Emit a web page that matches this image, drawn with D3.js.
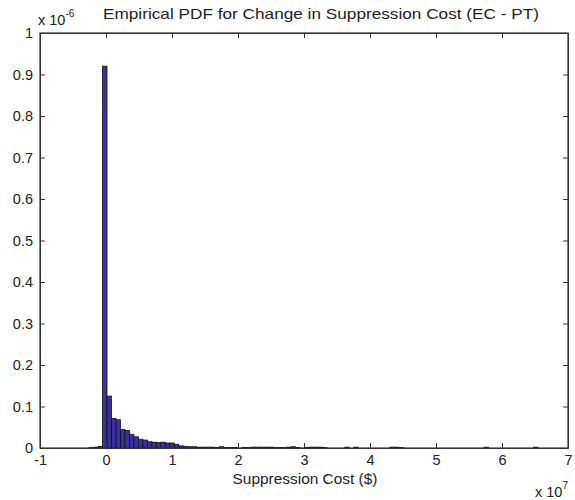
<!DOCTYPE html>
<html>
<head>
<meta charset="utf-8">
<script src="https://cdn.jsdelivr.net/npm/d3@7"></script>
<style>
  body { margin: 0; background: #fff; }
  svg text { font-family: "Liberation Sans", Arial, sans-serif; fill: #222; }
  .axis path, .axis line { stroke: #333; }
</style>
</head>
<body>
<div id="chart" style="width:575px;height:500px;"></div>
<script>
// histogram bins, x in units of 1e7 $, density in units of 1e-6
const binStart = -0.257;
const binWidth = 0.068;
const density = [
  0.001, 0.002, 0.004, 0.92, 0.125, 0.071, 0.068, 0.045, 0.042, 0.033,
  0.027, 0.021, 0.019, 0.015, 0.014, 0.013, 0.014, 0.012, 0.012, 0.009,
  0.005, 0.004, 0.003, 0.003, 0.002, 0.002, 0.002, 0.002, 0.001, 0.003,
  0.001, 0.001, 0.001, 0, 0.001, 0.001, 0.002, 0.002, 0.002, 0.002,
  0.002, 0.001, 0.001, 0.001, 0.002, 0.003, 0.001, 0, 0.001, 0.002,
  0.002, 0.002, 0.001, 0, 0, 0, 0, 0.002, 0, 0.002,
  0, 0, 0, 0, 0, 0, 0, 0.002, 0.002, 0.001,
  0, 0, 0, 0, 0, 0, 0, 0, 0, 0,
  0, 0, 0, 0, 0, 0, 0, 0, 0.002, 0,
  0, 0, 0, 0, 0, 0, 0, 0, 0, 0.002
];
const xTicks = [-1, 0, 1, 2, 3, 4, 5, 6, 7];
const yTicks = [0, 0.1, 0.2, 0.3, 0.4, 0.5, 0.6, 0.7, 0.8, 0.9, 1];

function renderHist(selector) {
    const margin = {top: 33, right: 7, bottom: 52, left: 40};
    const W = 575, H = 500;
    const width = W - margin.left - margin.right;
    const height = H - margin.top - margin.bottom;

    const root = d3.select(selector).append("svg")
        .attr("width", W)
        .attr("height", H);
    const svg = root.append("g")
        .attr("transform", `translate(${margin.left}, ${margin.top})`);

    const x = d3.scaleLinear().domain([-1, 7]).range([0, width]);
    const y = d3.scaleLinear().domain([0, 1]).range([height, 0]);

    const bins = density.map((v, i) => ({x0: binStart + i * binWidth, x1: binStart + (i + 1) * binWidth, v: v}));

    svg.selectAll(".bar")
        .data(bins)
        .enter()
        .append("rect")
        .attr("class", "bar")
        .attr("x", d => x(d.x0))
        .attr("width", d => x(d.x1) - x(d.x0))
        .attr("y", d => y(d.v))
        .attr("height", d => y(0) - y(d.v))
        .attr("fill", "#3b30a3")
        .attr("stroke", "#111")
        .attr("stroke-width", 0.8);

    const fmt = d => String(d);

    svg.append("g")
        .attr("class", "axis")
        .attr("transform", `translate(0, ${height})`)
        .call(d3.axisBottom(x).tickValues(xTicks).tickFormat(fmt).tickSizeInner(-5).tickSizeOuter(0).tickPadding(7))
        .attr("font-size", 14.5);
    svg.append("g")
        .attr("class", "axis")
        .call(d3.axisTop(x).tickValues(xTicks).tickFormat("").tickSizeInner(-5).tickSizeOuter(0));
    svg.append("g")
        .attr("class", "axis")
        .call(d3.axisLeft(y).tickValues(yTicks).tickFormat(fmt).tickSizeInner(-5).tickSizeOuter(0).tickPadding(7))
        .attr("font-size", 14.5);
    svg.append("g")
        .attr("class", "axis")
        .attr("transform", `translate(${width}, 0)`)
        .call(d3.axisRight(y).tickValues(yTicks).tickFormat("").tickSizeInner(-5).tickSizeOuter(0));

    svg.selectAll(".axis text").attr("fill", "#222").style("fill", "#222");

    svg.append("rect")
        .attr("width", width)
        .attr("height", height)
        .attr("fill", "none")
        .attr("stroke", "#333")
        .attr("stroke-width", 1.2);

    root.append("text")
        .attr("x", 321)
        .attr("y", 19)
        .attr("text-anchor", "middle")
        .attr("font-size", 15)
        .attr("textLength", 436)
        .attr("lengthAdjust", "spacingAndGlyphs")
        .text("Empirical PDF for Change in Suppression Cost (EC - PT)");

    const e1 = root.append("text").attr("x", 38).attr("y", 25).attr("font-size", 14.5);
    e1.append("tspan").text("x 10");
    e1.append("tspan").attr("dy", -8).attr("font-size", 10).text("-6");

    root.append("text")
        .attr("x", 305)
        .attr("y", 484)
        .attr("text-anchor", "middle")
        .attr("font-size", 15)
        .attr("textLength", 145)
        .attr("lengthAdjust", "spacingAndGlyphs")
        .text("Suppression Cost ($)");

    const e2 = root.append("text").attr("x", 535).attr("y", 497).attr("font-size", 14.5);
    e2.append("tspan").text("x 10");
    e2.append("tspan").attr("dy", -8).attr("font-size", 10).text("7");
}

renderHist("#chart");
</script>
</body>
</html>
